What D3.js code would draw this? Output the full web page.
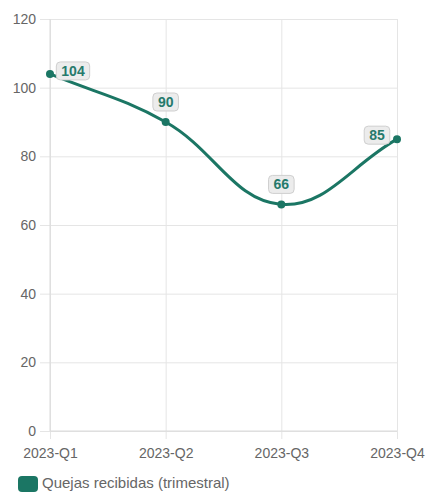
<!DOCTYPE html>
<html>
<head>
<meta charset="utf-8">
<script src="https://cdn.jsdelivr.net/npm/d3@7"></script>
<style>
  html, body { margin: 0; padding: 0; background: #fff; }
  svg { display: block; font-family: "Liberation Sans", Arial, Helvetica, sans-serif; }
</style>
</head>
<body>
<svg id="chart" width="426" height="492"></svg>
<script>
// Quarterly complaints received
const quarters = ["2023-Q1", "2023-Q2", "2023-Q3", "2023-Q4"];
const complaints = [104, 90, 66, 85];
const yTicks = [0, 20, 40, 60, 80, 100, 120];
const seriesName = "Quejas recibidas (trimestral)";

const lineColor = "#1b7664";
const gridColor = "#e5e5e5";
const textColor = "#666";

const svg = d3.select("#chart");
const area = { left: 50, right: 397, top: 19, bottom: 431 };

const x = d3.scalePoint().domain(quarters).range([area.left, area.right]);
const y = d3.scaleLinear().domain([0, 120]).range([area.bottom, area.top]);

// Spline with tension 0.4, control points scaled by neighbour distances
function tensionSpline(context) {
  const t = 0.4;
  let pts = [];
  return {
    areaStart() {}, areaEnd() {},
    lineStart() { pts = []; },
    point(px, py) { pts.push({ x: +px, y: +py }); },
    lineEnd() {
      const n = pts.length;
      if (!n) return;
      const cps = pts.map((cur, i) => {
        const prev = pts[Math.max(0, i - 1)];
        const next = pts[Math.min(n - 1, i + 1)];
        const d01 = Math.hypot(cur.x - prev.x, cur.y - prev.y);
        const d12 = Math.hypot(next.x - cur.x, next.y - cur.y);
        let s01 = d01 / (d01 + d12), s12 = d12 / (d01 + d12);
        if (isNaN(s01)) s01 = 0;
        if (isNaN(s12)) s12 = 0;
        const fa = t * s01, fb = t * s12;
        return {
          px: cur.x - fa * (next.x - prev.x), py: cur.y - fa * (next.y - prev.y),
          nx: cur.x + fb * (next.x - prev.x), ny: cur.y + fb * (next.y - prev.y)
        };
      });
      context.moveTo(pts[0].x, pts[0].y);
      for (let i = 1; i < n; i++) {
        context.bezierCurveTo(cps[i - 1].nx, cps[i - 1].ny, cps[i].px, cps[i].py, pts[i].x, pts[i].y);
      }
    }
  };
}

// Horizontal grid + y tick marks
const yAxis = d3.axisLeft(y).tickValues(yTicks).tickSize(area.right - area.left + 10).tickPadding(4);
const gy = svg.append("g").attr("transform", `translate(${area.right},0)`).call(yAxis);
gy.select(".domain").remove();
gy.selectAll(".tick line").attr("stroke", gridColor);
gy.selectAll(".tick text").attr("fill", textColor).attr("font-size", 14)
  .attr("font-family", "Liberation Sans, Arial, sans-serif");

// Vertical grid + x tick marks
const xAxis = d3.axisBottom(x).tickSize(-(area.bottom - area.top) - 8).tickPadding(0);
const gx = svg.append("g").attr("transform", `translate(0,${area.bottom + 8})`).call(xAxis);
gx.select(".domain").remove();
gx.selectAll(".tick line").attr("stroke", gridColor);
gx.selectAll(".tick text").attr("fill", textColor).attr("font-size", 14)
  .attr("font-family", "Liberation Sans, Arial, sans-serif").attr("dy", "19px");

// Axis baselines
svg.append("line").attr("x1", area.left).attr("x2", area.left)
  .attr("y1", area.top).attr("y2", area.bottom).attr("stroke", "#dadada");
svg.append("line").attr("x1", area.left).attr("x2", area.right)
  .attr("y1", area.bottom).attr("y2", area.bottom).attr("stroke", "#dadada");

const data = quarters.map((q, i) => ({ q, v: complaints[i] }));

const line = d3.line().x(d => x(d.q)).y(d => y(d.v)).curve(tensionSpline);
svg.append("path").datum(data).attr("d", line)
  .attr("fill", "none").attr("stroke", lineColor).attr("stroke-width", 3);

svg.selectAll("circle.pt").data(data).enter().append("circle")
  .attr("class", "pt").attr("cx", d => x(d.q)).attr("cy", d => y(d.v))
  .attr("r", 4).attr("fill", lineColor);

// Value labels
const labels = svg.selectAll("g.lbl").data(data).enter().append("g").attr("class", "lbl")
  .attr("transform", (d, i) => {
    let dx = 0, dy = -20;
    if (i === 0) { dx = 23; dy = -3; }
    if (i === data.length - 1) { dx = -20; dy = -4; }
    return `translate(${x(d.q) + dx},${y(d.v) + dy})`;
  });
labels.each(function (d) {
  const g = d3.select(this);
  const txt = g.append("text").text(d.v)
    .attr("text-anchor", "middle").attr("dy", "0.36em")
    .attr("font-size", 14).attr("font-weight", "bold").attr("fill", "#267a6c");
  const w = txt.node().getComputedTextLength() + 10;
  g.insert("rect", "text").attr("x", -w / 2).attr("y", -9).attr("width", w).attr("height", 18)
    .attr("rx", 4).attr("fill", "#ececec").attr("stroke", "#cfcfcf").attr("stroke-width", 1);
});

// Legend
const lg = svg.append("g").attr("transform", "translate(18,476)");
lg.append("rect").attr("width", 20).attr("height", 16).attr("rx", 4).attr("fill", lineColor);
lg.append("text").attr("x", 24).attr("y", 12)
  .attr("font-size", 15).attr("fill", textColor).text(seriesName);
</script>
</body>
</html>
